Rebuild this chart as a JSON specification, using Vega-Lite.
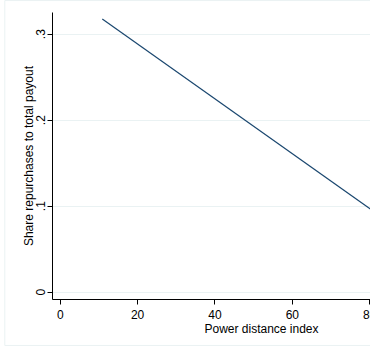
{
  "$schema": "https://vega.github.io/schema/vega-lite/v6.json",
  "autosize": "none",
  "width": 318,
  "height": 287,
  "padding": {"left": 52, "top": 12, "right": 0, "bottom": 52},
  "background": "white",
  "config": {
    "view": {"stroke": null},
    "font": "Liberation Sans",
    "axis": {"labelFont": "Liberation Sans", "titleFont": "Liberation Sans", "labelFontSize": 12, "titleFontSize": 12, "titleFontWeight": "normal", "labelColor": "#000", "titleColor": "#000", "domainColor": "#000", "tickColor": "#000", "tickSize": 5, "domainWidth": 1, "tickWidth": 1}
  },
  "datasets": {
    "fit": [
      {"pdi": 11, "share": 0.317},
      {"pdi": 104, "share": 0.0205}
    ],
    "frame": [
      {"x1": -14.2, "x2": 95, "y1": -0.0625, "y2": 0.3385}
    ]
  },
  "layer": [
    {
      "data": {"name": "frame"},
      "mark": {"type": "rect", "fill": null, "stroke": "#eaf2f3", "strokeWidth": 1, "clip": false},
      "encoding": {
        "x": {"field": "x1", "type": "quantitative", "scale": {"domain": [-2, 80.2], "nice": false, "zero": false}},
        "x2": {"field": "x2"},
        "y": {"field": "y1", "type": "quantitative", "scale": {"domain": [-0.0085, 0.3252], "nice": false, "zero": false}},
        "y2": {"field": "y2"}
      }
    },
    {
      "data": {"name": "fit"},
      "mark": {"type": "line", "color": "#1a476f", "strokeWidth": 1.2, "clip": true},
      "encoding": {
        "x": {
          "field": "pdi", "type": "quantitative",
          "scale": {"domain": [-2, 80.2], "nice": false, "zero": false},
          "axis": {"title": "Power distance index", "values": [0, 20, 40, 60, 80], "grid": false, "labelPadding": 5, "labelFlush": false, "titleX": 209, "titlePadding": 3, "labelOverlap": false}
        },
        "y": {
          "field": "share", "type": "quantitative",
          "scale": {"domain": [-0.0085, 0.3252], "nice": false, "zero": false},
          "axis": {"title": "Share repurchases to total payout", "values": [0, 0.1, 0.2, 0.3], "labelExpr": "datum.value == 0 ? '0' : replace(format(datum.value, '.1f'), '0.', '.')", "labelAngle": -90, "labelAlign": "center", "labelBaseline": "alphabetic", "labelPadding": 3, "labelFlush": false, "grid": true, "gridColor": "#eaf2f3", "gridWidth": 1, "titleX": -20, "titleY": 143.5, "titleBaseline": "alphabetic"}
        }
      }
    }
  ]
}
